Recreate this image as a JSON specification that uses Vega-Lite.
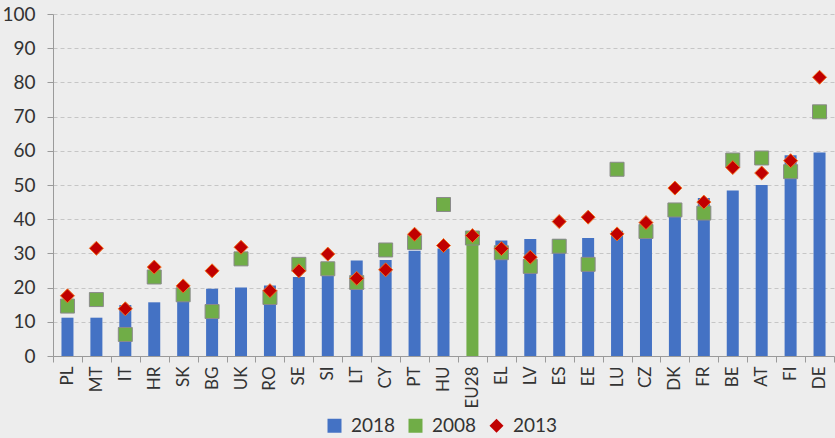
{
  "$schema": "https://vega.github.io/schema/vega-lite/v6.json",
  "width": 781,
  "height": 342,
  "autosize": {"type": "none"},
  "padding": {"left": 53, "top": 14, "right": 1, "bottom": 82},
  "background": "#ededed",
  "config": {
    "view": {"stroke": null},
    "font": "Lato",
    "axis": {"labelFont": "Lato", "labelColor": "#333333", "domainColor": "#9a9a9a", "tickColor": "#9a9a9a"},
    "legend": {"labelFont": "Lato"}
  },
  "data": {
    "values": [
      {"country": "PL", "y2018": 11.2, "y2008": 14.6, "y2013": 17.6},
      {"country": "MT", "y2018": 11.2, "y2008": 16.5, "y2013": 31.5},
      {"country": "IT", "y2018": 14.9, "y2008": 6.3, "y2013": 13.8},
      {"country": "HR", "y2018": 15.7, "y2008": 23.1, "y2013": 26.0},
      {"country": "SK", "y2018": 17.6, "y2008": 17.9, "y2013": 20.5},
      {"country": "BG", "y2018": 19.7, "y2008": 13.0, "y2013": 24.9},
      {"country": "UK", "y2018": 20.0, "y2008": 28.4, "y2013": 31.8},
      {"country": "RO", "y2018": 20.6, "y2008": 17.1, "y2013": 19.1},
      {"country": "SE", "y2018": 23.1, "y2008": 26.8, "y2013": 24.9},
      {"country": "SI", "y2018": 23.4, "y2008": 25.5, "y2013": 29.8},
      {"country": "LT", "y2018": 27.9, "y2008": 21.5, "y2013": 22.7},
      {"country": "CY", "y2018": 28.1, "y2008": 31.0, "y2013": 25.2},
      {"country": "PT", "y2018": 30.8, "y2008": 33.2, "y2013": 35.6},
      {"country": "HU", "y2018": 31.4, "y2008": 44.3, "y2013": 32.3},
      {"country": "EU28", "y2018": 34.3, "y2008": 34.5, "y2013": 35.2},
      {"country": "EL", "y2018": 33.8, "y2008": 30.2, "y2013": 31.4},
      {"country": "LV", "y2018": 34.2, "y2008": 26.2, "y2013": 28.9},
      {"country": "ES", "y2018": 34.2, "y2008": 32.1, "y2013": 39.3},
      {"country": "EE", "y2018": 34.5, "y2008": 26.8, "y2013": 40.6},
      {"country": "LU", "y2018": 36.6, "y2008": 54.6, "y2013": 35.7},
      {"country": "CZ", "y2018": 37.0, "y2008": 36.4, "y2013": 39.0},
      {"country": "DK", "y2018": 41.8, "y2008": 42.7, "y2013": 49.1},
      {"country": "FR", "y2018": 46.2, "y2008": 41.8, "y2013": 45.0},
      {"country": "BE", "y2018": 48.4, "y2008": 57.3, "y2013": 55.1},
      {"country": "AT", "y2018": 50.0, "y2008": 57.9, "y2013": 53.5},
      {"country": "FI", "y2018": 58.7, "y2008": 53.9, "y2013": 57.1},
      {"country": "DE", "y2018": 59.5, "y2008": 71.4, "y2013": 81.5}
    ]
  },
  "transform": [
    {"fold": ["y2018", "y2008", "y2013"], "as": ["key", "value"]},
    {"calculate": "substring(datum.key, 1)", "as": "series"}
  ],
  "encoding": {
    "x": {
      "field": "country",
      "type": "nominal",
      "sort": null,
      "scale": {"paddingInner": 0, "paddingOuter": 0},
      "axis": {
        "title": null,
        "labelAngle": -90,
        "labelFontSize": 17,
        "labelPadding": 4,
        "tickSize": 6,
        "tickBand": "extent",
        "domainColor": "#9a9a9a"
      }
    },
    "y": {
      "field": "value",
      "type": "quantitative",
      "scale": {"domain": [0, 100], "nice": false},
      "axis": {
        "title": null,
        "values": [0, 10, 20, 30, 40, 50, 60, 70, 80, 90, 100],
        "labelFontSize": 19,
        "labelPadding": 12,
        "tickSize": 6,
        "grid": true,
        "gridColor": "#c6c6c6",
        "gridDash": [4, 3],
        "domain": true
      }
    }
  },
  "layer": [
    {
      "transform": [{"filter": "datum.series === '2018'"}],
      "mark": {"type": "bar", "size": 12},
      "encoding": {
        "color": {
          "condition": {"test": "datum.country === 'EU28'", "value": "#70AD47"},
          "field": "series",
          "type": "nominal",
          "scale": {"domain": ["2018", "2008", "2013"], "range": ["#4472C4", "#70AD47", "#C00000"]}
        }
      }
    },
    {
      "transform": [{"filter": "datum.series !== '2018'"}],
      "mark": {"type": "point", "filled": true, "opacity": 1},
      "encoding": {
        "color": {
          "field": "series",
          "type": "nominal",
          "scale": {"domain": ["2018", "2008", "2013"], "range": ["#4472C4", "#70AD47", "#C00000"]},
          "legend": {
            "title": null,
            "orient": "none",
            "legendX": 272,
            "legendY": 402,
            "direction": "horizontal",
            "labelFontSize": 19,
            "labelColor": "#333333",
            "symbolSize": 121,
            "symbolStrokeWidth": 0,
            "labelOffset": 7,
            "columnPadding": 10
          }
        },
        "shape": {
          "field": "series",
          "type": "nominal",
          "scale": {"domain": ["2018", "2008", "2013"], "range": ["square", "square", "diamond"]}
        },
        "size": {
          "field": "series",
          "type": "nominal",
          "scale": {"domain": ["2018", "2008", "2013"], "range": [196, 196, 150]},
          "legend": null
        },
        "stroke": {
          "field": "series",
          "type": "nominal",
          "scale": {"domain": ["2018", "2008", "2013"], "range": ["#4472C4", "#8a8a8a", "#F07020"]},
          "legend": null
        },
        "strokeWidth": {"value": 1},
        "order": {"field": "series", "sort": "ascending"}
      }
    }
  ]
}
